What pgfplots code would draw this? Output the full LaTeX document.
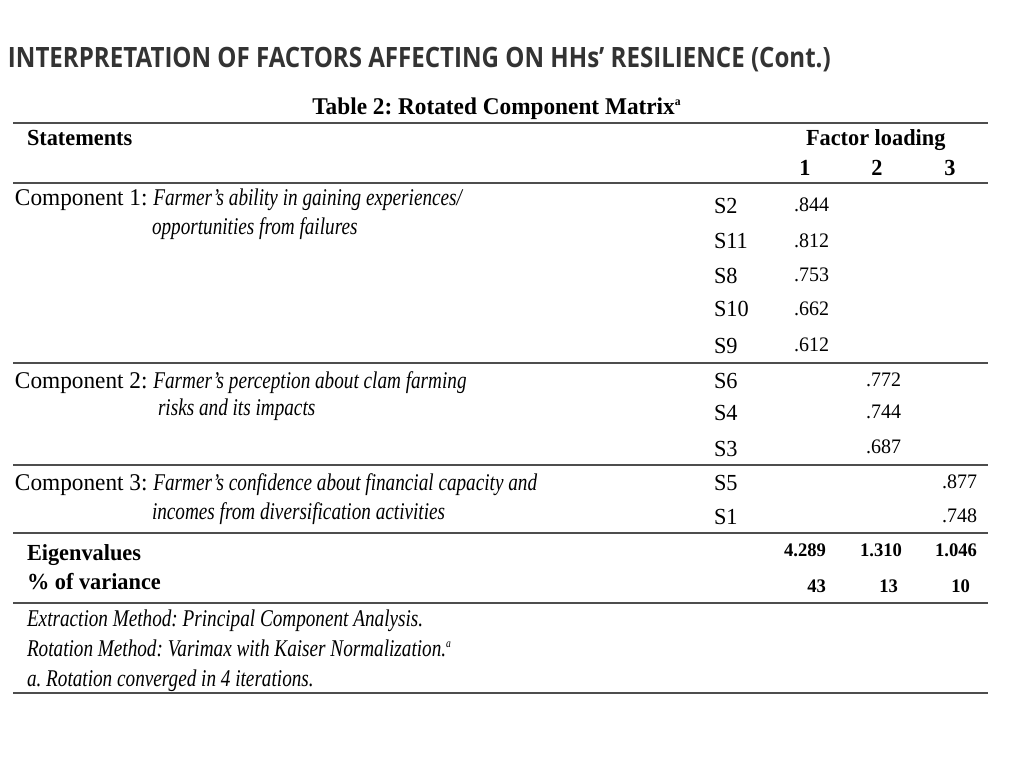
\documentclass[border=0pt]{standalone}
\usepackage{pgfplots}
\pgfplotsset{compat=1.18}
\usepackage{pgfplotstable}
\usepackage{fontspec}
\setmainfont{Liberation Serif}[FakeStretch=0.97]
\newfontfamily\itf{Liberation Serif}[FakeStretch=0.8]
\newfontfamily\ttl{Open Sans}[FakeStretch=0.86]
\definecolor{rulec}{HTML}{4D4D4D}
\definecolor{ttlc}{HTML}{333333}
\frenchspacing

% factor loadings: right edge x, baseline y (px of the slide)
\pgfplotstableread{
x y lab
829 211 .844
829 247 .812
829 281 .753
829 315 .662
829 351 .612
901 386 .772
901 418 .744
901 453 .687
977 488 .877
977 522 .748
}\loadings

\pgfplotstableread{
x y lab
826 556 4.289
902 556 1.310
977 556 1.046
826 592 43
898 592 13
970 592 10
}\eigen

\begin{document}
\begin{tikzpicture}[every node/.style={inner sep=0pt, outer sep=0pt}]
\begin{axis}[
    width=512pt, height=384pt, scale only axis,
    xmin=0, xmax=1024, ymin=0, ymax=768, y dir=reverse,
    hide axis, clip=false,
]
% keep the whole slide as the page
\path[draw=none] (axis cs:0,0) rectangle (axis cs:1024,768);
% table rules
\foreach \yy in {123,183,363,465,533,603,693}{
  \edef\tmp{\noexpand\draw[rulec, line width=1pt] (axis cs:13,\yy) -- (axis cs:988,\yy);}
  \tmp
}

\addplot[only marks, mark=none, point meta=explicit symbolic,
  nodes near coords, nodes near coords style={anchor=base east, inner sep=0pt, font=\fontsize{10.3}{12}\selectfont}]
  table[x=x, y=y, meta=lab] {\loadings};
\addplot[only marks, mark=none, point meta=explicit symbolic,
  nodes near coords, nodes near coords style={anchor=base east, inner sep=0pt, font=\fontsize{9.6}{12}\selectfont\bfseries}]
  table[x=x, y=y, meta=lab] {\eigen};

% slide title
\node[anchor=base west, text=ttlc, font=\ttl\bfseries\fontsize{14}{16}\selectfont] at (axis cs:8,67)
  {INTERPRETATION OF FACTORS AFFECTING ON HHs’ RESILIENCE (Cont.)};

% table caption and header
\node[anchor=base, font=\fontsize{12}{14}\selectfont\bfseries] at (axis cs:497,114)
  {Table 2: Rotated Component Matrix\textsuperscript{\fontsize{6}{7}\selectfont a}};
\node[anchor=base west, font=\fontsize{11.5}{13}\selectfont\bfseries] at (axis cs:27,145) {Statements};
\node[anchor=base west, font=\fontsize{11.5}{13}\selectfont\bfseries] at (axis cs:806,145) {Factor loading};
\foreach \xx/\lab in {805/1,877/2,950/3}{
  \edef\tmp{\noexpand\node[anchor=base, font=\noexpand\fontsize{11.5}{13}\noexpand\selectfont\noexpand\bfseries] at (axis cs:\xx,175) {\lab};}
  \tmp
}

% components
\node[anchor=base west, font=\fontsize{12}{14}\selectfont] at (axis cs:15,205)
  {Component 1: {\itf\itshape Farmer’s ability in gaining experiences/}};
\node[anchor=base west, font=\itf\itshape\fontsize{12}{14}\selectfont] at (axis cs:152,234)
  {opportunities from failures};
\node[anchor=base west, font=\fontsize{12}{14}\selectfont] at (axis cs:15,388)
  {Component 2: {\itf\itshape Farmer’s perception about clam farming}};
\node[anchor=base west, font=\itf\itshape\fontsize{12}{14}\selectfont] at (axis cs:158,415)
  {risks and its impacts};
\node[anchor=base west, font=\fontsize{12}{14}\selectfont] at (axis cs:15,490)
  {Component 3: {\itf\itshape Farmer’s confidence about financial capacity and}};
\node[anchor=base west, font=\itf\itshape\fontsize{12}{14}\selectfont] at (axis cs:152,519)
  {incomes from diversification activities};

% statement codes
\foreach \yy/\lab in {213/S2,248/S11,283/S8,316/S10,353/S9,388/S6,420/S4,456/S3,490/S5,524/S1}{
  \edef\tmp{\noexpand\node[anchor=base west, font=\noexpand\fontsize{11.5}{13}\noexpand\selectfont] at (axis cs:714,\yy) {\lab};}
  \tmp
}

% eigenvalues
\node[anchor=base west, font=\fontsize{11.5}{13}\selectfont\bfseries] at (axis cs:27,560) {Eigenvalues};
\node[anchor=base west, font=\fontsize{11.5}{13}\selectfont\bfseries] at (axis cs:27,589) {\% of variance};

% notes
\node[anchor=base west, font=\itf\itshape\fontsize{12}{14}\selectfont] at (axis cs:27,626)
  {Extraction Method: Principal Component Analysis.};
\node[anchor=base west, font=\itf\itshape\fontsize{12}{14}\selectfont] at (axis cs:27,656)
  {Rotation Method: Varimax with Kaiser Normalization.\textsuperscript{\fontsize{6}{7}\selectfont a}};
\node[anchor=base west, font=\itf\itshape\fontsize{12}{14}\selectfont] at (axis cs:27,686)
  {a. Rotation converged in 4 iterations.};
\end{axis}
\end{tikzpicture}
\end{document}
